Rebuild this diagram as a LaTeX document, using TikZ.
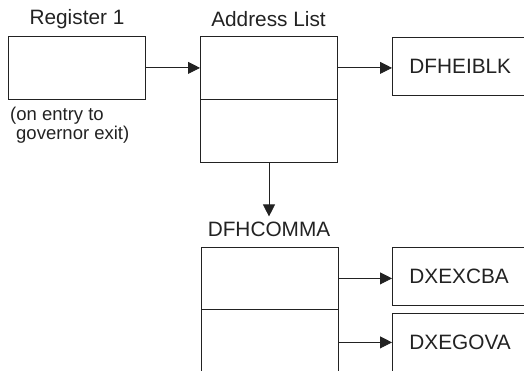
\documentclass[tikz,border=0pt]{standalone}
\usepackage{fontspec}
\setmainfont{Liberation Sans}
\usetikzlibrary{arrows.meta}
\definecolor{ink}{HTML}{222222}
\begin{document}
\begin{tikzpicture}[x=1pt,y=-1pt,
  cell/.style={draw=ink,line width=0.8pt,minimum width=137pt,inner sep=0pt,anchor=north west},
  lbl/.style={text=ink,font=\fontsize{20.8}{24}\selectfont,inner sep=0pt},
  tbox/.style={draw=ink,line width=0.8pt,anchor=north west,minimum height=58pt,text width=120pt,align=left,inner xsep=17pt,inner ysep=0pt,text=ink,font=\fontsize{20.8}{24}\selectfont},
  conn/.style={draw=ink,line width=0.8pt,-{Triangle[length=12pt,width=12pt]}}]
\useasboundingbox (0,0) rectangle (524,371);
% titles
\node[lbl] (t1) at (77,19) {Register 1};
\node[lbl] (t2) at (268.5,19) {Address List};
% register 1
\node[cell,minimum height=63pt] (reg) at (8,36) {};
\node[text=ink,font=\fontsize{18.5}{18.5}\selectfont,align=left,anchor=north west,inner sep=0pt] (note) at (10,107) {(on entry to\\\hspace{6pt}governor exit)};
% address list
\node[cell,minimum height=63pt] (altop) at (200,36) {};
\node[cell,minimum height=63pt] (albot) at (200,99) {};
% DFHEIBLK
\node[tbox] (heib) at (392,37) {DFHEIBLK};
% DFHCOMMA
\node[lbl,inner ysep=5pt] (comma) at (269,229) {DFHCOMMA};
\node[cell,minimum height=62pt] (ctop) at (201,247) {};
\node[cell,minimum height=80pt] (cbot) at (201,309) {};
\node[tbox] (excba) at (392,247) {DXEXCBA};
\node[tbox] (egova) at (392,313) {DXEGOVA};
% connectors
\draw[conn] (reg.east) -- (altop.west);
\draw[conn] (altop.east) -- (heib.west |- altop.east);
\draw[conn] (albot.south -| comma.north) -- (comma.north);
\draw[conn] (ctop.east) -- (excba.west |- ctop.east);
\draw[conn] (egova.west -| cbot.east) -- (egova.west);
\end{tikzpicture}
\end{document}
